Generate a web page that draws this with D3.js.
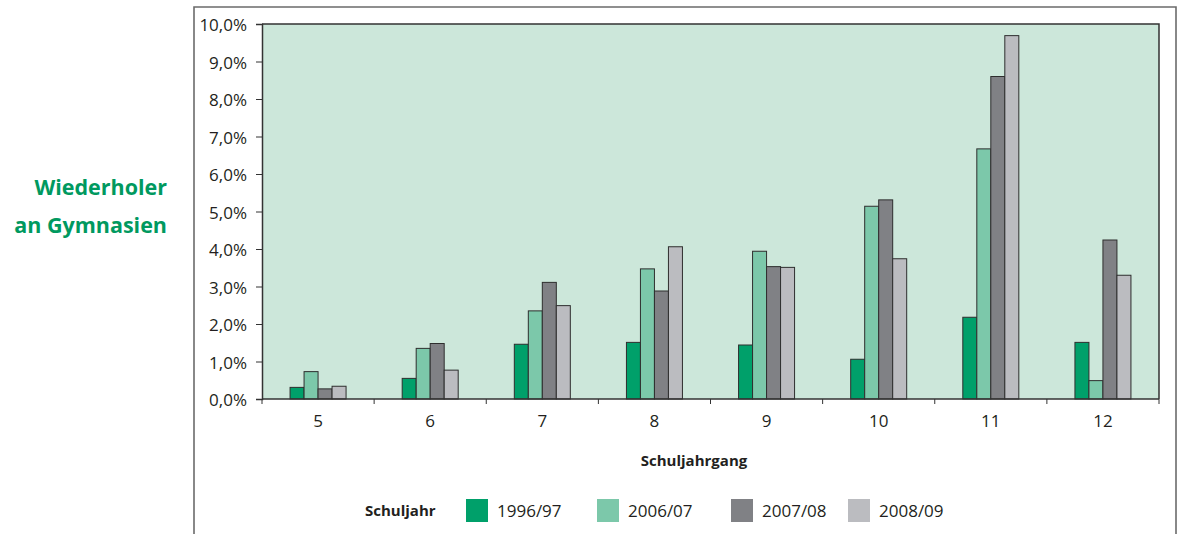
<!DOCTYPE html>
<html>
<head>
<meta charset="utf-8">
<script src="https://cdn.jsdelivr.net/npm/d3@7"></script>
<style>
  html, body { margin: 0; padding: 0; background: #fff; }
  svg { display: block; font-family: "Open Sans", "Noto Sans", sans-serif; }
</style>
</head>
<body>
<svg id="chart" width="1182" height="534"></svg>
<script>
// Grades (Schuljahrgang) on the x axis
const grades = ["5", "6", "7", "8", "9", "10", "11", "12"];
// School years shown as the four bars of each group
const years = ["1996/97", "2006/07", "2007/08", "2008/09"];
// Share of repeaters, in percent
const values1996 = [0.31, 0.55, 1.46, 1.51, 1.44, 1.06, 2.18, 1.51];
const values2006 = [0.73, 1.35, 2.35, 3.47, 3.94, 5.14, 6.67, 0.49];
const values2007 = [0.27, 1.48, 3.11, 2.88, 3.53, 5.31, 8.60, 4.24];
const values2008 = [0.34, 0.77, 2.49, 4.06, 3.51, 3.74, 9.69, 3.30];
const yTicks = [0, 1, 2, 3, 4, 5, 6, 7, 8, 9, 10];

const seriesValues = [values1996, values2006, values2007, values2008];
const colors = ["#00a06a", "#7cc8aa", "#808185", "#bbbcc0"];
const textColor = "#231f20";

const svg = d3.select("#chart");
const plot = { left: 262, right: 1159, top: 24, bottom: 399 };

// Outer frame (open at the bottom edge of the page)
svg.append("path")
  .attr("d", "M194,540 L194,7 L1176,7 L1176,540")
  .attr("fill", "none").attr("stroke", "#6b6b6b").attr("stroke-width", 1.6);

// Title
const title = svg.append("text")
  .attr("text-anchor", "end")
  .attr("fill", "#00995f")
  .style("font-size", "21.5px")
  .attr("font-weight", 700);
title.append("tspan").attr("x", 167).attr("y", 195).text("Wiederholer");
title.append("tspan").attr("x", 167).attr("y", 233).text("an Gymnasien");

const x = d3.scaleBand().domain(grades).range([plot.left, plot.right]);
const xInner = d3.scaleBand().domain(years).range([0, 56]);
const y = d3.scaleLinear().domain([0, 10]).range([plot.bottom, plot.top]);

// Plot background
svg.append("rect")
  .attr("x", plot.left).attr("y", plot.top)
  .attr("width", plot.right - plot.left).attr("height", plot.bottom - plot.top)
  .attr("fill", "#cce7da");

// Bars
const groups = svg.append("g").selectAll("g")
  .data(grades)
  .join("g")
  .attr("transform", g => `translate(${x(g) + x.bandwidth() / 2 - 28},0)`);

groups.selectAll("rect")
  .data((g, gi) => years.map((yr, si) => ({ yr, si, v: seriesValues[si][gi] })))
  .join("rect")
  .attr("x", d => xInner(d.yr))
  .attr("width", xInner.bandwidth())
  .attr("y", d => y(d.v))
  .attr("height", d => y(0) - y(d.v))
  .attr("fill", d => colors[d.si])
  .attr("stroke", "#2e2e2e")
  .attr("stroke-width", 1);

// Plot border (top and right)
svg.append("path")
  .attr("d", `M${plot.left},${plot.top} L${plot.right},${plot.top} L${plot.right},${plot.bottom}`)
  .attr("fill", "none").attr("stroke", "#333").attr("stroke-width", 1.5);

// Y axis
const yAxis = svg.append("g")
  .attr("transform", `translate(${plot.left},0)`)
  .call(d3.axisLeft(y).tickValues(yTicks).tickSize(6).tickPadding(9)
    .tickFormat(d => d.toFixed(1).replace(".", ",") + "%"));
yAxis.select(".domain").attr("stroke", "#333").attr("stroke-width", 1.5);
yAxis.selectAll(".tick line").attr("stroke", "#333");
yAxis.selectAll(".tick text")
  .style("font-size", "17px")
  .style("font-family", "'Open Sans', sans-serif")
  .attr("fill", textColor)
  .attr("dy", "0.4em");

// X axis: ticks sit on the band boundaries
const xAxis = svg.append("g")
  .attr("transform", `translate(0,${plot.bottom})`);
xAxis.append("line")
  .attr("x1", plot.left).attr("x2", plot.right)
  .attr("stroke", "#333").attr("stroke-width", 1.5);
const boundaries = grades.map(g => x(g)).concat([plot.right]);
xAxis.selectAll("line.tick")
  .data(boundaries)
  .join("line")
  .attr("class", "tick")
  .attr("x1", d => d).attr("x2", d => d)
  .attr("y1", 0).attr("y2", 5)
  .attr("stroke", "#333");
xAxis.selectAll("text")
  .data(grades)
  .join("text")
  .attr("x", g => x(g) + x.bandwidth() / 2)
  .attr("y", 28)
  .attr("text-anchor", "middle")
  .style("font-size", "17px")
  .attr("fill", textColor)
  .text(g => g);

// X axis title
svg.append("text")
  .attr("x", 694).attr("y", 466)
  .attr("text-anchor", "middle")
  .style("font-size", "15px").attr("font-weight", 700).attr("fill", textColor)
  .text("Schuljahrgang");

// Legend
svg.append("text")
  .attr("x", 365).attr("y", 516)
  .style("font-size", "15px").attr("font-weight", 700).attr("fill", textColor)
  .text("Schuljahr");

const legendX = [466, 597, 731, 848];
const legend = svg.append("g").selectAll("g")
  .data(years)
  .join("g")
  .attr("transform", (d, i) => `translate(${legendX[i]},499)`);
legend.append("rect")
  .attr("width", 22).attr("height", 23)
  .attr("fill", (d, i) => colors[i]);
legend.append("text")
  .attr("x", 31).attr("y", 17.5)
  .style("font-size", "17px").attr("fill", textColor)
  .text(d => d);
</script>
</body>
</html>
